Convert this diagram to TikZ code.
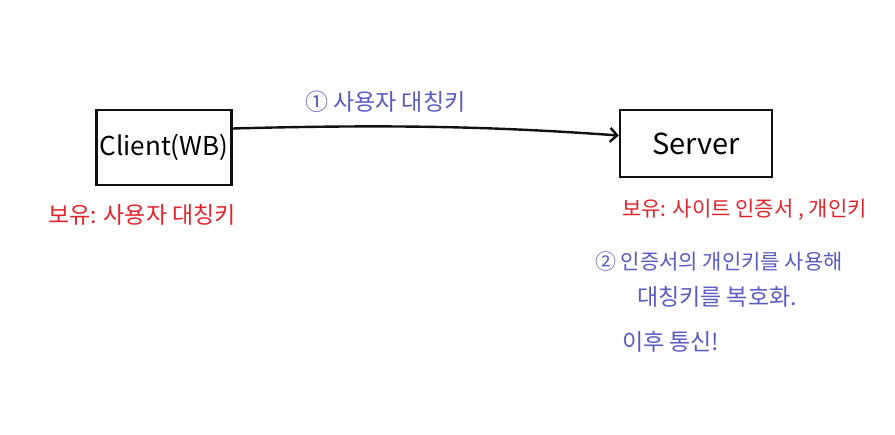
\documentclass[tikz,border=0pt]{standalone}
\usepackage{fontspec}
\setmainfont{Noto Sans CJK KR}
\usetikzlibrary{arrows.meta, positioning}
\definecolor{ink}{HTML}{111111}
\definecolor{note}{HTML}{5A5AC4}
\definecolor{hold}{HTML}{E3242B}

\begin{document}
\begin{tikzpicture}[
    x=1pt, y=-1pt,
    every node/.style={font=\fontsize{21}{25}\selectfont},
    box/.style={rectangle, draw=ink, line width=2.4pt, minimum width=134pt,
                minimum height=75pt, font=\fontsize{26}{30}\selectfont},
    arrow/.style={-{Straight Barb[length=7pt, width=14pt]}, line width=2.4pt, color=ink},
    hold/.style={text=hold, anchor=west, inner sep=0pt},
    note/.style={text=note, anchor=west, inner sep=0pt},
    big/.style={font=\fontsize{23}{27}\selectfont}
]
\useasboundingbox[fill=white] (0,0) rectangle (895,435);

% Boxes
\node[box] (client) at (164,147.5) {Client(WB)};
\node[box, minimum width=152pt, minimum height=67pt, font=\fontsize{29}{34}\selectfont] (server) at (696,143.5) {Server};

% Arrow
\draw[arrow] ([yshift=19pt]client.east) .. controls (400,124) and (500,127) .. ([yshift=8pt]server.west);

% Labels
\node[note, big] (step1) at (305,102) {① 사용자 대칭키};
\node[hold, big] (clientkey) at (48,215) {보유: 사용자 대칭키};
\node[hold] (serverkey) at (622,210) {보유: 사이트 인증서 , 개인키};
\node[note] (step2) at (595,262) {② 인증서의 개인키를 사용해};
\node[note, big] (step2b) at (637,297) {대칭키를 복호화.};
\node[note, big] (step3) at (622,342) {이후 통신!};

\end{tikzpicture}
\end{document}
